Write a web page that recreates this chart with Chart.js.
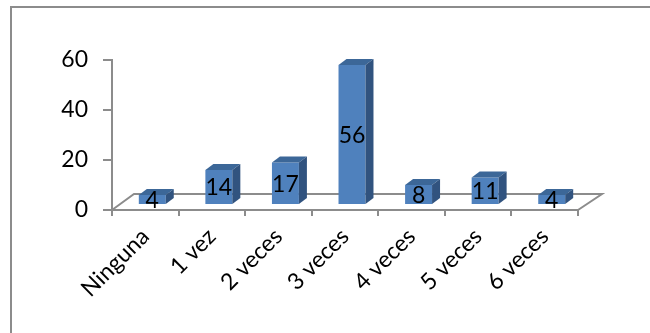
<!DOCTYPE html>
<html>
<head>
<meta charset="utf-8">
<script src="https://cdn.jsdelivr.net/npm/chart.js@4.4.1/dist/chart.umd.min.js"></script>
<style>
  html, body { margin: 0; padding: 0; background: #fff; }
  canvas { display: block; }
</style>
</head>
<body>
<canvas id="chart" width="650" height="333"></canvas>
<script>
const categories = ['Ninguna', '1 vez', '2 veces', '3 veces', '4 veces', '5 veces', '6 veces'];
const counts = [4, 14, 17, 56, 8, 11, 4];
const yTicks = [0, 20, 40, 60];

const FRONT = '#4F81BD';
const TOP = '#3C6798';
const SIDE = '#31537F';
const AXIS = '#8C8C8C';
const FONT = 'Lato';

// bars stand a bit behind the axis plane (fake 3d)
const SHIFT_X = 7, SHIFT_Y = -5;
const DEPTH_X = 8, DEPTH_Y = -6;

const boxPlugin = {
  id: 'box',
  beforeDraw(chart) {
    const ctx = chart.ctx;
    ctx.save();
    ctx.strokeStyle = AXIS;
    ctx.lineWidth = 2;
    ctx.beginPath();
    ctx.moveTo(11, 333);
    ctx.lineTo(11, 7);
    ctx.lineTo(650, 7);
    ctx.stroke();
    ctx.restore();
  }
};

const bars3d = {
  id: 'bars3d',
  beforeDatasetsDraw(chart) {
    const { ctx, chartArea: a } = chart;
    // floor
    ctx.save();
    ctx.strokeStyle = AXIS;
    ctx.lineWidth = 2;
    ctx.beginPath();
    ctx.moveTo(a.left, a.bottom);
    ctx.lineTo(a.left + 22, a.bottom - 16);
    ctx.lineTo(a.right + 24, a.bottom - 16);
    ctx.lineTo(a.right, a.bottom);
    ctx.stroke();
    ctx.restore();

    ctx.save();
    ctx.translate(SHIFT_X, SHIFT_Y);
  },
  afterDatasetsDraw(chart) {
    const ctx = chart.ctx;
    const meta = chart.getDatasetMeta(0);
    meta.data.forEach((bar, i) => {
      const l = bar.x - bar.width / 2, r = bar.x + bar.width / 2;
      // top face
      ctx.fillStyle = TOP;
      ctx.beginPath();
      ctx.moveTo(l, bar.y);
      ctx.lineTo(l + DEPTH_X, bar.y + DEPTH_Y);
      ctx.lineTo(r + DEPTH_X, bar.y + DEPTH_Y);
      ctx.lineTo(r, bar.y);
      ctx.closePath();
      ctx.fill();
      // side face
      ctx.fillStyle = SIDE;
      ctx.beginPath();
      ctx.moveTo(r, bar.y);
      ctx.lineTo(r + DEPTH_X, bar.y + DEPTH_Y);
      ctx.lineTo(r + DEPTH_X, bar.base + DEPTH_Y);
      ctx.lineTo(r, bar.base);
      ctx.closePath();
      ctx.fill();
    });
    // value labels
    ctx.fillStyle = '#000';
    ctx.font = '23px ' + FONT;
    ctx.textAlign = 'center';
    ctx.textBaseline = 'middle';
    meta.data.forEach((bar, i) => {
      ctx.fillText(String(counts[i]), bar.x, (bar.y + bar.base) / 2 + 1);
    });
    ctx.restore();
  }
};

new Chart(document.getElementById('chart'), {
  type: 'bar',
  data: {
    labels: categories,
    datasets: [{
      data: counts,
      backgroundColor: FRONT,
      borderWidth: 0,
      barPercentage: 0.405,
      categoryPercentage: 1,
      clip: false
    }]
  },
  options: {
    responsive: false,
    devicePixelRatio: 1,
    animation: false,
    layout: { padding: { left: 0, right: 72, top: 60, bottom: 0 } },
    plugins: { legend: { display: false }, tooltip: { enabled: false } },
    scales: {
      x: {
        ticks: { minRotation: 45, maxRotation: 45, color: '#000', font: { family: FONT, size: 23 }, padding: 7 },
        grid: { drawOnChartArea: false, tickLength: 6, color: AXIS, lineWidth: 2, offset: true },
        border: { color: AXIS, width: 2 },
        afterFit(s) { s.height = 123; }
      },
      y: {
        min: 0,
        max: 60,
        afterBuildTicks(s) { s.ticks = yTicks.map(v => ({ value: v })); },
        ticks: { color: '#000', font: { family: FONT, size: 23 }, padding: 15 },
        grid: { drawOnChartArea: false, tickLength: 9, color: AXIS, lineWidth: 2 },
        border: { color: AXIS, width: 2 },
        afterFit(s) { s.width = 112; }
      }
    }
  },
  plugins: [boxPlugin, bars3d]
});
</script>
</body>
</html>
